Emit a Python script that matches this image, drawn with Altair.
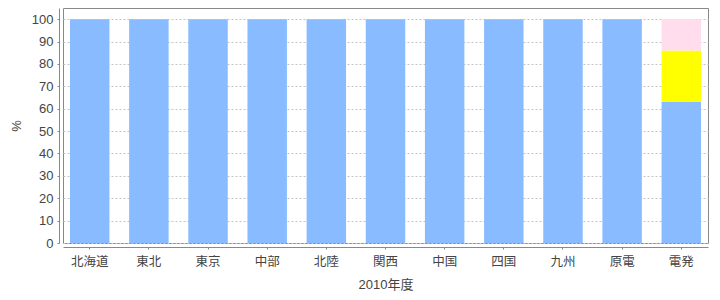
import altair as alt
import pandas as pd

categories = ["北海道", "東北", "東京", "中部", "北陸", "関西", "中国", "四国", "九州", "原電", "電発"]
series_a = [100, 100, 100, 100, 100, 100, 100, 100, 100, 100, 63]
series_b = [0, 0, 0, 0, 0, 0, 0, 0, 0, 0, 23]
series_c = [0, 0, 0, 0, 0, 0, 0, 0, 0, 0, 14]
series_names = ["系列A", "系列B", "系列C"]
series_colors = ["#88bbff", "#ffff00", "#ffdded"]

rows = []
for i, c in enumerate(categories):
    for k, vals in enumerate([series_a, series_b, series_c]):
        rows.append({"cat": c, "series": series_names[k], "order": k, "value": vals[i]})
df = pd.DataFrame(rows)

font = "Liberation Sans, Noto Sans CJK JP"

chart = alt.Chart(df).mark_bar().encode(
    x=alt.X("cat:N", sort=categories, title="2010年度",
            scale=alt.Scale(paddingInner=0.333, paddingOuter=0.118),
            axis=alt.Axis(labelAngle=0, offset=4, tickSize=2, labelPadding=6,
                          domainColor="#888888", tickColor="#888888",
                          labelColor="#444444", titleColor="#444444",
                          labelFontSize=12.5, titleFontSize=13, titlePadding=11,
                          labelFont=font, titleFont=font, titleFontWeight="normal")),
    y=alt.Y("value:Q", stack="zero", title="%",
            scale=alt.Scale(domain=[0, 105], nice=False),
            axis=alt.Axis(values=list(range(0, 101, 10)), offset=4, tickSize=2, labelPadding=4,
                          grid=True, gridDash=[2, 2], gridColor="#c4c4c4",
                          domainColor="#888888", tickColor="#888888",
                          labelColor="#444444", titleColor="#444444",
                          labelFontSize=13, titleFontSize=13, titlePadding=8,
                          labelFont=font, titleFont=font, titleFontWeight="normal")),
    color=alt.Color("series:N", scale=alt.Scale(domain=series_names, range=series_colors), legend=None),
    order=alt.Order("order:Q"),
).properties(
    width=645, height=235,
    autosize=alt.AutoSizeParams(type="none"),
    padding={"left": 63, "top": 8, "right": 12, "bottom": 57},
).configure_view(stroke="#888888", strokeWidth=1)

chart.save("out.html", embed_options={"renderer": "svg", "actions": False})
